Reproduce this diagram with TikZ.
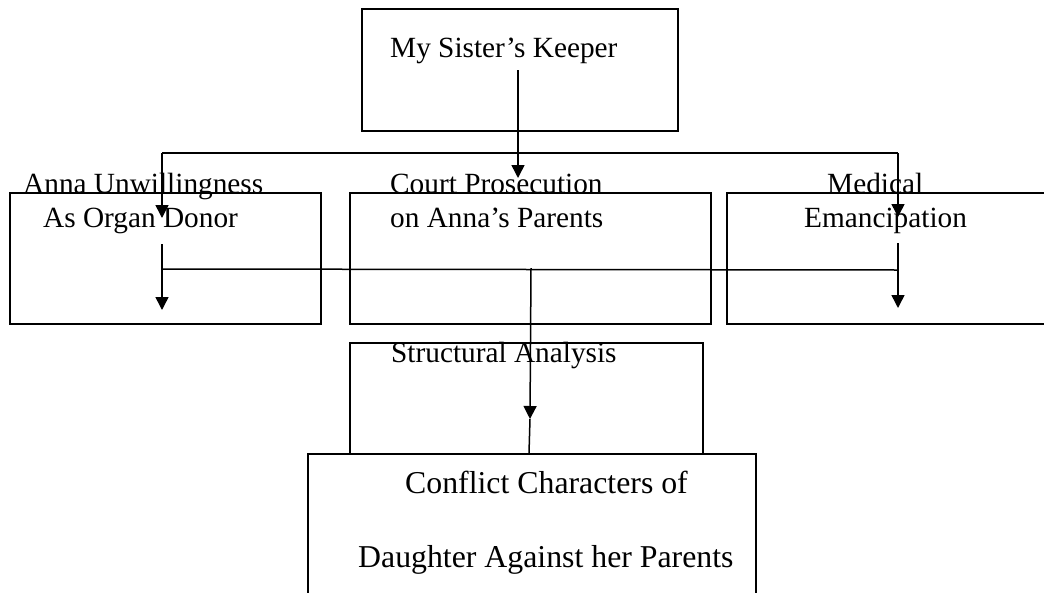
\documentclass[tikz,border=0pt]{standalone}
\usepackage{fontspec}
\setmainfont{Liberation Serif}
\usetikzlibrary{arrows.meta}
\begin{document}
\begin{tikzpicture}[x=1pt,y=-1pt,
  box/.style={draw, line width=1.5pt, anchor=north west, inner sep=0pt},
  lbl/.style={anchor=base west, inner sep=0pt, font=\fontsize{29.3}{34}\selectfont},
  big/.style={anchor=base west, inner sep=0pt, font=\fontsize{31.8}{38}\selectfont},
  wire/.style={line width=1.5pt},
  arr/.style={wire, -{Triangle[length=13pt,width=13pt]}}]
\useasboundingbox (0,0) rectangle (1044,592);
\clip (0,0) rectangle (1044,592);
% boxes
\node[box, minimum width=316pt, minimum height=122pt] (top) at (361,8) {};
\node[box, minimum width=311pt, minimum height=131pt] (b1) at (9,192) {};
\node[box, minimum width=361pt, minimum height=131pt] (b2) at (349,192) {};
\node[box, minimum width=340pt, minimum height=131pt] (b3) at (726,192) {};
\node[box, minimum width=353pt, minimum height=111pt] (sa) at (349,342) {};
\node[box, minimum width=448pt, minimum height=170pt] (cc) at (307,453) {};
% texts
\node[lbl] (ttop) at (390,57) {My Sister’s Keeper};
\node[lbl] (t1a) at (23,193) {Anna Unwillingness};
\node[lbl] (t1b) at (43,227) {As Organ Donor};
\node[lbl] (t2a) at (390,193) {Court Prosecution};
\node[lbl] (t2b) at (390,227) {on Anna’s Parents};
\node[lbl] (t3a) at (827,193) {Medical};
\node[lbl] (t3b) at (804,227) {Emancipation};
\node[lbl] (tsa) at (391,362) {Structural Analysis};
\node[big] (tcc1) at (405,493) {Conflict Characters of};
\node[big] (tcc2) at (358,567) {Daughter Against her Parents};
% connector points
\coordinate (s0) at (518,70);
\coordinate (s1) at (518,178);
\coordinate (hL) at (162,153);
\coordinate (hR) at (898,153);
\coordinate (a1) at (162,218);
\coordinate (a3) at (898,217);
\coordinate (v1a) at (162,244);
\coordinate (v1b) at (162,310);
\coordinate (v3a) at (898,243);
\coordinate (v3b) at (898,308);
\coordinate (gL) at (162,269);
\coordinate (gR) at (898,270);
\coordinate (c0) at (531,268);
\coordinate (c1) at (530,419);
\coordinate (c2) at (529,453);
% connectors
\draw[arr] (s0) -- (s1);
\draw[wire] (hL) -- (hR);
\draw[arr] (hL) -- (a1);
\draw[arr] (hR) -- (a3);
\draw[wire] (gL) -- (gR);
\draw[arr] (v1a) -- (v1b);
\draw[arr] (v3a) -- (v3b);
\draw[arr] (c0) -- (c1);
\draw[wire] (c1) -- (c2);
\end{tikzpicture}
\end{document}
